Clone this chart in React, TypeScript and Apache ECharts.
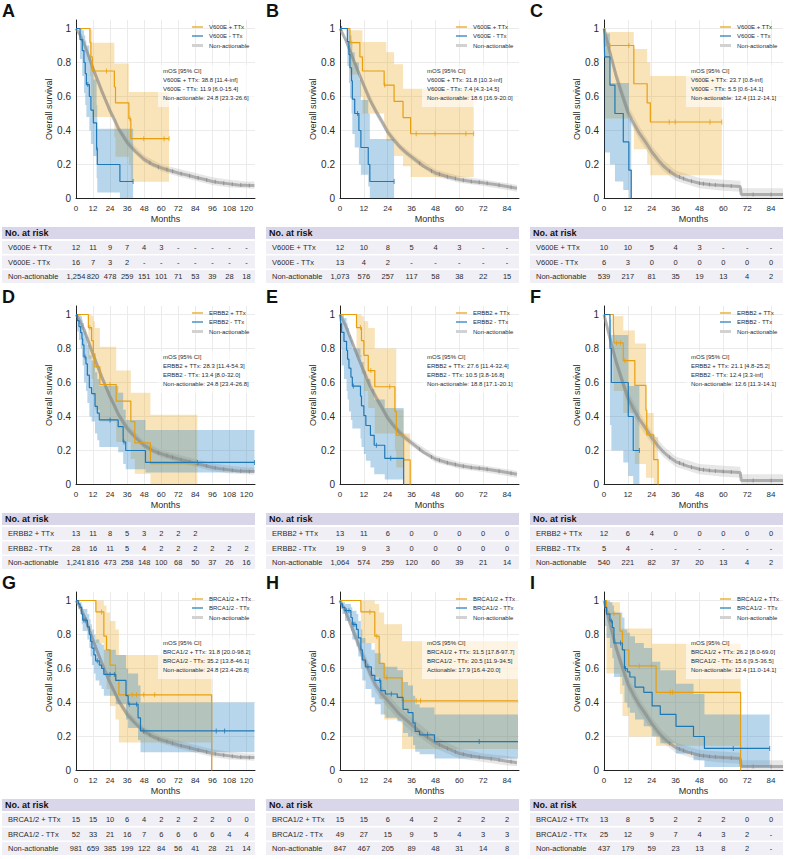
import React, { useEffect, useRef } from 'react';
import * as echarts from 'echarts';

const FONT = '"Liberation Sans", Arial, Helvetica, sans-serif';
const ORANGE = '#E89F0E';
const BLUE = '#1F78B6';
const ORANGE_BAND = 'rgba(236,163,20,0.30)';
const BLUE_BAND = 'rgba(40,130,195,0.33)';
const GREY_LINE = 'rgba(135,135,135,0.6)';
const GREY_BAND = 'rgba(170,170,170,0.28)';
const GREY_CENSOR = '#8a8a8a';
const TEXT = '#2b2b2b';

const TICKS_120 = [0, 12, 24, 36, 48, 60, 72, 84, 96, 108, 120];
const TICKS_84 = [0, 12, 24, 36, 48, 60, 72, 84];

// ---------- Non-actionable reference cohorts: [month, survival] ----------
const NA_LONG = [[0, 1], [3, 0.96], [6, 0.905], [9, 0.835], [12, 0.765], [15, 0.7], [18, 0.635], [21, 0.575], [24, 0.515], [27, 0.465], [30, 0.41], [33, 0.37], [36, 0.33], [42, 0.275], [48, 0.23], [54, 0.2], [60, 0.18], [66, 0.165], [72, 0.15], [78, 0.138], [84, 0.125], [90, 0.113], [96, 0.1], [102, 0.092], [108, 0.086], [114, 0.08], [120, 0.078], [125.6, 0.077]];
const NA_LONG_CI = [[0, 1, 1], [6, 0.89, 0.92], [12, 0.74, 0.79], [18, 0.61, 0.66], [24, 0.49, 0.54], [30, 0.39, 0.43], [36, 0.31, 0.355], [48, 0.21, 0.255], [60, 0.16, 0.2], [72, 0.13, 0.175], [84, 0.105, 0.15], [96, 0.08, 0.125], [108, 0.065, 0.11], [120, 0.06, 0.1], [125.6, 0.058, 0.1]];
const NA_LONG_CENS = [[52, 0.21], [58, 0.185], [64, 0.17], [68, 0.16], [74, 0.146], [80, 0.134], [86, 0.121], [92, 0.109], [98, 0.098], [104, 0.09], [110, 0.084], [116, 0.079], [122, 0.077]];

const NA_MID = [[0, 1], [3, 0.93], [6, 0.84], [9, 0.75], [12, 0.665], [15, 0.58], [18, 0.515], [21, 0.455], [24, 0.39], [27, 0.345], [30, 0.305], [33, 0.272], [36, 0.245], [42, 0.19], [48, 0.15], [54, 0.128], [60, 0.112], [66, 0.1], [72, 0.092], [78, 0.082], [84, 0.07], [89, 0.06]];
const NA_MID_CI = [[0, 1, 1], [6, 0.82, 0.86], [12, 0.64, 0.69], [18, 0.49, 0.54], [24, 0.37, 0.415], [30, 0.285, 0.325], [36, 0.225, 0.265], [48, 0.13, 0.17], [60, 0.093, 0.132], [72, 0.073, 0.112], [84, 0.05, 0.09], [89, 0.04, 0.08]];
const NA_MID_CENS = [[40, 0.207], [46, 0.162], [50, 0.142], [54, 0.128], [58, 0.117], [62, 0.108], [66, 0.1], [70, 0.095], [74, 0.089], [80, 0.078], [86, 0.066]];

const NA_SHORT = [[0, 1], [3, 0.86], [6, 0.725], [9, 0.615], [12, 0.51], [15, 0.44], [18, 0.38], [21, 0.33], [24, 0.275], [27, 0.23], [30, 0.19], [33, 0.16], [36, 0.135], [42, 0.108], [48, 0.09], [54, 0.081], [60, 0.076], [68.5, 0.07], [69, 0.023], [90, 0.023]];
const NA_SHORT_CI = [[0, 1, 1], [6, 0.69, 0.76], [12, 0.47, 0.55], [18, 0.34, 0.42], [24, 0.24, 0.31], [30, 0.16, 0.225], [36, 0.105, 0.165], [48, 0.06, 0.12], [60, 0.045, 0.11], [68.5, 0.04, 0.105], [69, 0.003, 0.06], [90, 0.003, 0.06]];
const NA_SHORT_CENS = [[33, 0.16], [38, 0.127], [40, 0.118], [44, 0.102], [48, 0.09], [50, 0.087], [53, 0.082], [56, 0.079], [60, 0.076], [64, 0.073], [75, 0.023], [84, 0.023]];

const NA_H = [[0, 1], [3, 0.93], [6, 0.84], [9, 0.75], [12, 0.66], [15, 0.575], [18, 0.5], [21, 0.45], [24, 0.41], [27, 0.37], [30, 0.33], [33, 0.3], [36, 0.27], [42, 0.21], [48, 0.163], [54, 0.13], [60, 0.1], [66, 0.085], [72, 0.075], [78, 0.066], [84, 0.055], [89, 0.045]];
const NA_H_CI = [[0, 1, 1], [6, 0.81, 0.87], [12, 0.62, 0.7], [18, 0.46, 0.54], [24, 0.37, 0.45], [30, 0.29, 0.37], [36, 0.23, 0.31], [48, 0.13, 0.2], [60, 0.07, 0.13], [72, 0.05, 0.1], [84, 0.03, 0.085], [89, 0.025, 0.075]];
const NA_H_CENS = [[38, 0.25], [44, 0.195], [50, 0.152], [54, 0.13], [58, 0.11], [62, 0.096], [66, 0.085], [70, 0.078], [76, 0.069], [80, 0.063], [86, 0.052]];

// ---------- A: BRAF V600E ----------
const A_PLUS = [[0, 1], [9.8, 0.917], [10.5, 0.833], [11.5, 0.75], [27, 0.656], [27.8, 0.563], [37.2, 0.469], [38.6, 0.352], [65.5, 0.352]];
const A_PLUS_CI = [[0, 1, 1], [9.8, 0.72, 1], [10.5, 0.6, 0.99], [11.5, 0.48, 0.916], [27, 0.36, 0.794], [27.8, 0.245, 0.794], [37.2, 0.2, 0.627], [38.6, 0.098, 0.627], [65.5, 0.098, 0.627]];
const A_PLUS_CENS = [[21.5, 0.75], [38, 0.469], [47.7, 0.352], [62, 0.352], [65.5, 0.352]];
const A_MINUS = [[0, 1], [2.8, 0.935], [4.4, 0.87], [5.6, 0.8], [6.5, 0.735], [7.3, 0.67], [9.4, 0.6], [10.5, 0.52], [12.2, 0.445], [14.5, 0.297], [15, 0.2], [30.9, 0.1], [40.2, 0.1]];
const A_MINUS_CI = [[0, 1, 1], [2.8, 0.82, 1], [4.4, 0.72, 0.99], [5.6, 0.62, 0.96], [6.5, 0.55, 0.93], [7.3, 0.48, 0.9], [9.4, 0.4, 0.84], [10.5, 0.32, 0.78], [12.2, 0.25, 0.7], [14.5, 0.12, 0.55], [15, 0.035, 0.41], [30.9, 0, 0.41], [40.2, 0, 0.41]];
const A_MINUS_CENS = [[8.3, 0.67], [14.5, 0.297], [40.2, 0.1]];

// ---------- B ----------
const B_PLUS = [[0, 1], [5, 0.917], [10, 0.833], [11.3, 0.75], [22.2, 0.667], [27.2, 0.571], [31.7, 0.476], [35.5, 0.381], [67.2, 0.381]];
const B_PLUS_CI = [[0, 1, 1], [5, 0.73, 0.99], [10, 0.6, 0.99], [11.3, 0.5, 0.92], [22.2, 0.42, 0.92], [23.3, 0.34, 0.86], [27.2, 0.25, 0.79], [31.7, 0.19, 0.645], [35.5, 0.127, 0.645], [67.2, 0.127, 0.645]];
const B_PLUS_CENS = [[22.5, 0.667], [38.3, 0.381], [47.8, 0.381], [63.3, 0.381], [67.2, 0.381]];
const B_MINUS = [[0, 1], [3.7, 0.923], [4.5, 0.846], [5, 0.769], [5.8, 0.692], [6.2, 0.585], [7.4, 0.5], [9.5, 0.4], [10.5, 0.3], [14.2, 0.2], [15, 0.1], [27.2, 0.1]];
const B_MINUS_CI = [[0, 1, 1], [3.7, 0.78, 1], [4.5, 0.68, 0.99], [5, 0.59, 0.96], [5.8, 0.5, 0.93], [6.2, 0.38, 0.86], [7.4, 0.3, 0.8], [9.5, 0.2, 0.7], [10.5, 0.14, 0.58], [14.2, 0.07, 0.5], [15, 0, 0.35], [27.2, 0, 0.35]];
const B_MINUS_CENS = [[0.8, 1], [8.8, 0.5], [27.2, 0.1]];

// ---------- C ----------
const C_PLUS = [[0, 1], [0.5, 0.9], [15, 0.675], [21.7, 0.5625], [23.3, 0.45], [59.2, 0.45]];
const C_PLUS_CI = [[0, 1, 1], [0.5, 0.47, 0.98], [15, 0.29, 0.88], [21.7, 0.2, 0.8], [23.3, 0.137, 0.72], [59.2, 0.137, 0.72]];
const C_PLUS_CENS = [[3, 0.9], [12.5, 0.9], [32.8, 0.45], [35.8, 0.45], [53.3, 0.45], [59.2, 0.45]];
const C_MINUS = [[0, 1], [0.3, 0.833], [3, 0.667], [5.5, 0.5], [9.7, 0.333], [12.5, 0.167], [13.7, 0]];
const C_MINUS_CI = [[0, 1, 1], [0.3, 0.27, 0.97], [3, 0.2, 0.68], [5.5, 0.1, 0.68], [9.7, 0.05, 0.68], [12.5, 0, 0.47], [13.7, 0, 0.47]];
const C_MINUS_CENS: number[][] = [];

// ---------- D: ERBB2 ----------
const D_PLUS = [[0, 1], [8.7, 0.923], [11, 0.846], [12.2, 0.769], [13.3, 0.692], [16.8, 0.588], [28.3, 0.49], [38.6, 0.37], [41.4, 0.245], [52.4, 0.123], [85.4, 0.123]];
const D_PLUS_CI = [[0, 1, 1], [8.7, 0.74, 1], [11, 0.62, 0.99], [12.2, 0.52, 0.96], [13.3, 0.44, 0.92], [16.8, 0.37, 0.81], [28.3, 0.25, 0.67], [38.6, 0.15, 0.54], [41.4, 0.063, 0.54], [52.4, 0, 0.41], [85.4, 0, 0.41]];
const D_PLUS_CENS = [[9.8, 0.923], [23.9, 0.588], [85.4, 0.123]];
const D_MINUS = [[0, 1], [0.9, 0.964], [2.1, 0.929], [3.3, 0.893], [4.2, 0.857], [4.7, 0.821], [5.6, 0.75], [7, 0.71], [8, 0.643], [9.4, 0.57], [11, 0.535], [13.4, 0.46], [15, 0.42], [16.4, 0.38], [29.7, 0.34], [33.2, 0.25], [35, 0.2], [48.9, 0.13], [125.6, 0.13]];
const D_MINUS_CI = [[0, 1, 1], [0.9, 0.9, 1], [2.1, 0.85, 1], [3.3, 0.8, 0.99], [4.2, 0.75, 0.97], [4.7, 0.7, 0.95], [5.6, 0.6, 0.9], [7, 0.55, 0.87], [8, 0.48, 0.82], [9.4, 0.4, 0.76], [11, 0.37, 0.73], [13.4, 0.3, 0.66], [15, 0.26, 0.62], [16.4, 0.22, 0.58], [29.7, 0.19, 0.54], [33.2, 0.12, 0.44], [35, 0.09, 0.38], [48.9, 0.07, 0.32], [125.6, 0.07, 0.32]];
const D_MINUS_CENS = [[6.4, 0.75], [24, 0.38], [33.8, 0.25], [85.4, 0.13], [125.6, 0.13]];

// ---------- E ----------
const E_PLUS = [[0, 1], [8.3, 0.923], [10.8, 0.846], [12, 0.76], [14.2, 0.67], [17.5, 0.575], [27.6, 0.43], [28.3, 0.29], [32, 0.145], [35.3, 0]];
const E_PLUS_CI = [[0, 1, 1], [8.3, 0.75, 1], [10.8, 0.65, 0.99], [12, 0.55, 0.96], [14.2, 0.45, 0.92], [17.5, 0.3, 0.8], [27.6, 0.2, 0.8], [28.3, 0.1, 0.44], [32, 0, 0.3], [35.3, 0, 0.3]];
const E_PLUS_CENS = [[10.3, 0.923], [15.5, 0.67], [25, 0.575]];
const E_MINUS = [[0, 1], [0.3, 0.947], [0.8, 0.895], [2, 0.842], [3.3, 0.789], [3.8, 0.737], [4.5, 0.684], [5.5, 0.632], [6.2, 0.579], [10.3, 0.52], [10.8, 0.463], [12, 0.405], [13, 0.347], [15.3, 0.289], [17.2, 0.231], [22.5, 0.154], [32, 0]];
const E_MINUS_CI = [[0, 1, 1], [0.3, 0.8, 1], [0.8, 0.7, 1], [2, 0.62, 0.98], [3.3, 0.55, 0.95], [3.8, 0.5, 0.92], [4.5, 0.43, 0.88], [5.5, 0.38, 0.85], [6.2, 0.33, 0.8], [10.3, 0.27, 0.76], [10.8, 0.22, 0.72], [12, 0.18, 0.67], [13, 0.14, 0.62], [15.3, 0.1, 0.56], [17.2, 0.06, 0.5], [22.5, 0.03, 0.45], [32, 0.03, 0.45]];
const E_MINUS_CENS = [[6.7, 0.579], [18.3, 0.231], [25.5, 0.154]];

// ---------- F ----------
const F_PLUS = [[0, 1], [4.7, 0.917], [5, 0.833], [9.7, 0.729], [15.5, 0.583], [21.1, 0.437], [21.5, 0.292], [25, 0.146], [27.2, 0]];
const F_PLUS_CI = [[0, 1, 1], [4.7, 0.6, 1], [5, 0.55, 0.99], [9.7, 0.42, 0.906], [15.5, 0.12, 0.83], [21.1, 0.04, 0.42], [25, 0, 0.28], [27.2, 0, 0.28]];
const F_PLUS_CENS = [[6.3, 0.833], [8.3, 0.833], [10.5, 0.729]];
const F_MINUS = [[0, 1], [3, 0.8], [3.7, 0.6], [12.2, 0.4], [14.7, 0.2], [17.8, 0.2]];
const F_MINUS_CI = [[0, 1, 1], [3, 0.35, 0.97], [3.7, 0.2, 0.88], [9.7, 0.13, 0.88], [12.2, 0.05, 0.58], [14.7, 0, 0.58], [17.8, 0, 0.58]];
const F_MINUS_CENS = [[17.8, 0.2]];

// ---------- G: BRCA1/2 ----------
const G_PLUS = [[0, 1], [14, 0.933], [19.6, 0.79], [21.5, 0.71], [23.9, 0.62], [27.8, 0.53], [30.2, 0.445], [95.5, 0]];
const G_PLUS_CI = [[0, 1, 1], [14, 0.75, 1], [19.6, 0.6, 0.97], [21.5, 0.48, 0.93], [23.9, 0.38, 0.88], [27.8, 0.3, 0.83], [30.2, 0.165, 0.68], [95.5, 0.165, 0.68]];
const G_PLUS_CENS = [[18, 0.933], [39.5, 0.445], [42.6, 0.445], [47.7, 0.445], [55.4, 0.445]];
const G_MINUS = [[0, 1], [1.6, 0.98], [2.8, 0.96], [4, 0.92], [4.7, 0.885], [8, 0.845], [9.4, 0.8], [10.3, 0.76], [11.2, 0.72], [12.6, 0.68], [13.8, 0.645], [16.4, 0.62], [18, 0.6], [19.6, 0.565], [28, 0.53], [35.2, 0.44], [36.7, 0.39], [43.7, 0.31], [45.4, 0.233], [125.6, 0.233]];
const G_MINUS_CI = [[0, 1, 1], [1.6, 0.95, 1], [2.8, 0.92, 0.99], [4, 0.86, 0.97], [4.7, 0.82, 0.95], [8, 0.77, 0.92], [9.4, 0.72, 0.89], [10.3, 0.67, 0.86], [11.2, 0.62, 0.83], [12.6, 0.57, 0.8], [13.8, 0.53, 0.77], [16.4, 0.5, 0.75], [18, 0.48, 0.74], [19.6, 0.44, 0.71], [28, 0.39, 0.68], [35.2, 0.3, 0.6], [36.7, 0.25, 0.57], [43.7, 0.18, 0.5], [45.4, 0.107, 0.4], [125.6, 0.107, 0.4]];
const G_MINUS_CENS = [[5.5, 0.885], [6.5, 0.885], [7.2, 0.885], [15, 0.645], [23.9, 0.565], [27, 0.565], [37.5, 0.39], [42.6, 0.39], [47.7, 0.233], [98.7, 0.233], [104.6, 0.233]];

// ---------- H ----------
const H_PLUS = [[0, 1], [10.5, 0.933], [17.5, 0.79], [19.7, 0.63], [22.2, 0.545], [31.2, 0.41], [89.5, 0.41]];
const H_PLUS_CI = [[0, 1, 1], [10.5, 0.75, 1], [17.5, 0.55, 0.98], [19.7, 0.42, 0.93], [22.2, 0.3, 0.86], [31.2, 0.126, 0.76], [89.5, 0.126, 0.76]];
const H_PLUS_CENS = [[15, 0.933], [18.5, 0.79], [23.5, 0.545], [38.3, 0.41], [40.5, 0.41]];
const H_MINUS = [[0, 1], [0.3, 0.98], [1.2, 0.96], [2.5, 0.94], [5.5, 0.9], [6.2, 0.86], [8.3, 0.83], [9.2, 0.78], [10.5, 0.71], [11.2, 0.65], [12.8, 0.61], [15.8, 0.56], [17.5, 0.53], [20.5, 0.47], [22.8, 0.45], [28.8, 0.43], [31.7, 0.36], [34.2, 0.34], [36.7, 0.28], [37.8, 0.23], [40, 0.21], [47.5, 0.17], [89.5, 0.17]];
const H_MINUS_CI = [[0, 1, 1], [0.3, 0.95, 1], [1.2, 0.92, 0.99], [2.5, 0.88, 0.98], [5.5, 0.82, 0.96], [6.2, 0.77, 0.94], [8.3, 0.73, 0.92], [9.2, 0.67, 0.88], [10.5, 0.6, 0.83], [11.2, 0.53, 0.78], [12.8, 0.48, 0.75], [15.8, 0.43, 0.71], [17.5, 0.39, 0.69], [20.5, 0.33, 0.63], [22.8, 0.31, 0.61], [28.8, 0.29, 0.59], [31.7, 0.22, 0.52], [34.2, 0.2, 0.5], [36.7, 0.15, 0.44], [37.8, 0.11, 0.39], [40, 0.095, 0.37], [47.5, 0.07, 0.33], [89.5, 0.07, 0.33]];
const H_MINUS_CENS = [[3.3, 0.94], [4.5, 0.94], [6.7, 0.86], [7.5, 0.86], [14, 0.61], [20, 0.53], [25.8, 0.45], [44, 0.21], [70, 0.17]];

// ---------- I ----------
const I_PLUS = [[0, 1], [1.3, 0.923], [8, 0.82], [9.3, 0.71], [12.5, 0.615], [26.2, 0.46], [68.7, 0]];
const I_PLUS_CI = [[0, 1, 1], [1.3, 0.57, 0.99], [8, 0.45, 0.835], [9.3, 0.32, 0.835], [12.5, 0.2, 0.835], [24.2, 0.2, 0.745], [26.2, 0.145, 0.745], [68.7, 0.145, 0.745]];
const I_PLUS_CENS = [[2.5, 0.923], [5, 0.923], [17.8, 0.615], [23.8, 0.615], [33.3, 0.46], [34.5, 0.46]];
const I_MINUS = [[0, 1], [0.5, 0.96], [1.3, 0.92], [3, 0.88], [4.2, 0.84], [5, 0.75], [9.2, 0.71], [10.3, 0.6], [11.7, 0.58], [13, 0.55], [15.6, 0.49], [20, 0.46], [24.2, 0.38], [28.3, 0.33], [36.2, 0.26], [45, 0.2], [50.5, 0.13], [83.3, 0.13]];
const I_MINUS_CI = [[0, 1, 1], [0.5, 0.85, 1], [1.3, 0.78, 1], [3, 0.72, 0.99], [4.2, 0.66, 0.97], [5, 0.55, 0.93], [9.2, 0.5, 0.9], [10.3, 0.4, 0.83], [11.7, 0.37, 0.81], [13, 0.34, 0.79], [15.6, 0.3, 0.75], [20, 0.26, 0.72], [24.2, 0.2, 0.64], [28.3, 0.16, 0.59], [36.2, 0.1, 0.51], [45, 0.06, 0.45], [50.5, 0.02, 0.33], [83.3, 0.02, 0.33]];
const I_MINUS_CENS = [[3.7, 0.88], [8.3, 0.75], [10.8, 0.6], [65, 0.13], [83.3, 0.13]];

// ---------- numbers at risk ----------
const A_RISK_PLUS = ['12', '11', '9', '7', '4', '3', '-', '-', '-', '-', '-'];
const A_RISK_MINUS = ['16', '7', '3', '2', '-', '-', '-', '-', '-', '-', '-'];
const A_RISK_NA = ['1,254', '820', '478', '259', '151', '101', '71', '53', '39', '28', '18'];
const B_RISK_PLUS = ['12', '10', '8', '5', '4', '3', '-', '-'];
const B_RISK_MINUS = ['13', '4', '2', '-', '-', '-', '-', '-'];
const B_RISK_NA = ['1,073', '576', '257', '117', '58', '38', '22', '15'];
const C_RISK_PLUS = ['10', '10', '5', '4', '3', '-', '-', '-'];
const C_RISK_MINUS = ['6', '3', '0', '0', '0', '0', '0', '0'];
const C_RISK_NA = ['539', '217', '81', '35', '19', '13', '4', '2'];
const D_RISK_PLUS = ['13', '11', '8', '5', '3', '2', '2', '2', '', '', ''];
const D_RISK_MINUS = ['28', '16', '11', '5', '4', '2', '2', '2', '2', '2', '2'];
const D_RISK_NA = ['1,241', '816', '473', '258', '148', '100', '68', '50', '37', '26', '16'];
const E_RISK_PLUS = ['13', '11', '6', '0', '0', '0', '0', '0'];
const E_RISK_MINUS = ['19', '9', '3', '0', '0', '0', '0', '0'];
const E_RISK_NA = ['1,064', '574', '259', '120', '60', '39', '21', '14'];
const F_RISK_PLUS = ['12', '6', '4', '0', '0', '0', '0', '0'];
const F_RISK_MINUS = ['5', '4', '-', '-', '-', '-', '-', '-'];
const F_RISK_NA = ['540', '221', '82', '37', '20', '13', '4', '2'];
const G_RISK_PLUS = ['15', '15', '10', '6', '4', '2', '2', '2', '2', '0', '0'];
const G_RISK_MINUS = ['52', '33', '21', '16', '7', '6', '6', '6', '6', '4', '4'];
const G_RISK_NA = ['981', '659', '385', '199', '122', '84', '56', '41', '28', '21', '14'];
const H_RISK_PLUS = ['15', '15', '6', '4', '2', '2', '2', '2'];
const H_RISK_MINUS = ['49', '27', '15', '9', '5', '4', '3', '3'];
const H_RISK_NA = ['847', '467', '205', '89', '48', '31', '14', '8'];
const I_RISK_PLUS = ['13', '8', '5', '2', '2', '2', '0', '0'];
const I_RISK_MINUS = ['25', '12', '9', '7', '4', '3', '2', '-'];
const I_RISK_NA = ['437', '179', '59', '23', '13', '8', '2', '-'];

// ---------- median OS annotations ----------
const MOS_A = ['V600E + TTx: 38.8 [11.4-inf]', 'V600E - TTx: 11.9 [6.0-15.4]', 'Non-actionable: 24.8 [23.3-26.6]'];
const MOS_B = ['V600E + TTx: 31.8 [10.3-inf]', 'V600E - TTx: 7.4 [4.3-14.5]', 'Non-actionable: 18.6 [16.9-20.0]'];
const MOS_C = ['V600E + TTx: 23.7 [0.8-inf]', 'V600E - TTx: 5.5 [0.6-14.1]', 'Non-actionable: 12.4 [11.2-14.1]'];
const MOS_D = ['ERBB2 + TTx: 28.3 [11.4-54.3]', 'ERBB2 - TTx: 13.4 [8.0-32.0]', 'Non-actionable: 24.8 [23.4-26.8]'];
const MOS_E = ['ERBB2 + TTx: 27.6 [11.4-32.4]', 'ERBB2 - TTx: 10.5 [3.8-16.8]', 'Non-actionable: 18.8 [17.1-20.1]'];
const MOS_F = ['ERBB2 + TTx: 21.1 [4.8-25.2]', 'ERBB2 - TTx: 12.4 [3.3-inf]', 'Non-actionable: 12.6 [11.3-14.1]'];
const MOS_G = ['BRCA1/2 + TTx: 31.8 [20.0-98.2]', 'BRCA1/2 - TTx: 35.2 [13.8-46.1]', 'Non-actionable: 24.8 [23.4-26.8]'];
const MOS_H = ['BRCA1/2 + TTx: 31.5 [17.8-97.7]', 'BRCA1/2 - TTx: 20.5 [11.9-34.5]', 'Actionable: 17.9 [16.4-20.0]'];
const MOS_I = ['BRCA1/2 + TTx: 26.2 [8.0-69.0]', 'BRCA1/2 - TTx: 15.6 [9.5-36.5]', 'Non-actionable: 12.4 [11.0-14.1]'];

const V600E = ['V600E + TTx', 'V600E - TTx', 'Non-actionable'];
const ERBB2 = ['ERBB2 + TTx', 'ERBB2 - TTx', 'Non-actionable'];
const BRCA = ['BRCA1/2 + TTx', 'BRCA1/2 - TTx', 'Non-actionable'];

type Arm = { line: number[][]; ci: number[][]; cens: number[][] };
type Panel = {
  letter: string; col: number; row: number; xMax: number; ticks: number[];
  names: string[]; mos: string[]; plus: Arm; minus: Arm; na: Arm; risk: string[][];
};

const NA_LONG_ARM = { line: NA_LONG, ci: NA_LONG_CI, cens: NA_LONG_CENS };
const NA_MID_ARM = { line: NA_MID, ci: NA_MID_CI, cens: NA_MID_CENS };
const NA_SHORT_ARM = { line: NA_SHORT, ci: NA_SHORT_CI, cens: NA_SHORT_CENS };
const NA_H_ARM = { line: NA_H, ci: NA_H_CI, cens: NA_H_CENS };

const PANELS: Panel[] = [
  { letter: 'A', col: 0, row: 0, xMax: 126, ticks: TICKS_120, names: V600E, mos: MOS_A,
    plus: { line: A_PLUS, ci: A_PLUS_CI, cens: A_PLUS_CENS }, minus: { line: A_MINUS, ci: A_MINUS_CI, cens: A_MINUS_CENS },
    na: NA_LONG_ARM, risk: [A_RISK_PLUS, A_RISK_MINUS, A_RISK_NA] },
  { letter: 'B', col: 1, row: 0, xMax: 90, ticks: TICKS_84, names: V600E, mos: MOS_B,
    plus: { line: B_PLUS, ci: B_PLUS_CI, cens: B_PLUS_CENS }, minus: { line: B_MINUS, ci: B_MINUS_CI, cens: B_MINUS_CENS },
    na: NA_MID_ARM, risk: [B_RISK_PLUS, B_RISK_MINUS, B_RISK_NA] },
  { letter: 'C', col: 2, row: 0, xMax: 90, ticks: TICKS_84, names: V600E, mos: MOS_C,
    plus: { line: C_PLUS, ci: C_PLUS_CI, cens: C_PLUS_CENS }, minus: { line: C_MINUS, ci: C_MINUS_CI, cens: C_MINUS_CENS },
    na: NA_SHORT_ARM, risk: [C_RISK_PLUS, C_RISK_MINUS, C_RISK_NA] },
  { letter: 'D', col: 0, row: 1, xMax: 126, ticks: TICKS_120, names: ERBB2, mos: MOS_D,
    plus: { line: D_PLUS, ci: D_PLUS_CI, cens: D_PLUS_CENS }, minus: { line: D_MINUS, ci: D_MINUS_CI, cens: D_MINUS_CENS },
    na: NA_LONG_ARM, risk: [D_RISK_PLUS, D_RISK_MINUS, D_RISK_NA] },
  { letter: 'E', col: 1, row: 1, xMax: 90, ticks: TICKS_84, names: ERBB2, mos: MOS_E,
    plus: { line: E_PLUS, ci: E_PLUS_CI, cens: E_PLUS_CENS }, minus: { line: E_MINUS, ci: E_MINUS_CI, cens: E_MINUS_CENS },
    na: NA_MID_ARM, risk: [E_RISK_PLUS, E_RISK_MINUS, E_RISK_NA] },
  { letter: 'F', col: 2, row: 1, xMax: 90, ticks: TICKS_84, names: ERBB2, mos: MOS_F,
    plus: { line: F_PLUS, ci: F_PLUS_CI, cens: F_PLUS_CENS }, minus: { line: F_MINUS, ci: F_MINUS_CI, cens: F_MINUS_CENS },
    na: NA_SHORT_ARM, risk: [F_RISK_PLUS, F_RISK_MINUS, F_RISK_NA] },
  { letter: 'G', col: 0, row: 2, xMax: 126, ticks: TICKS_120, names: BRCA, mos: MOS_G,
    plus: { line: G_PLUS, ci: G_PLUS_CI, cens: G_PLUS_CENS }, minus: { line: G_MINUS, ci: G_MINUS_CI, cens: G_MINUS_CENS },
    na: NA_LONG_ARM, risk: [G_RISK_PLUS, G_RISK_MINUS, G_RISK_NA] },
  { letter: 'H', col: 1, row: 2, xMax: 90, ticks: TICKS_84, names: BRCA, mos: MOS_H,
    plus: { line: H_PLUS, ci: H_PLUS_CI, cens: H_PLUS_CENS }, minus: { line: H_MINUS, ci: H_MINUS_CI, cens: H_MINUS_CENS },
    na: NA_H_ARM, risk: [H_RISK_PLUS, H_RISK_MINUS, H_RISK_NA] },
  { letter: 'I', col: 2, row: 2, xMax: 90, ticks: TICKS_84, names: BRCA, mos: MOS_I,
    plus: { line: I_PLUS, ci: I_PLUS_CI, cens: I_PLUS_CENS }, minus: { line: I_MINUS, ci: I_MINUS_CI, cens: I_MINUS_CENS },
    na: NA_SHORT_ARM, risk: [I_RISK_PLUS, I_RISK_MINUS, I_RISK_NA] },
];

// layout of the 3x3 figure
const COL_LEFT = [76, 340, 604];
const ROW_TOP = [0, 286, 572];
const PLOT_W = 179;
const PLOT_TOP = 20;
const PLOT_H = 178.5;

// shaded confidence band: stepped for KM arms, linear for the large cohort
function bandSeries(ci: number[][], fill: string, idx: number, stepped: boolean) {
  return {
    type: 'custom',
    xAxisIndex: idx,
    yAxisIndex: idx,
    data: ci,
    silent: true,
    clip: true,
    encode: { x: 0, y: 1 },
    renderItem: (params: any, api: any) => {
      if (params.dataIndex !== 0) return null;
      const up: number[][] = [];
      const lo: number[][] = [];
      for (let k = 0; k < ci.length; k++) {
        const [t, l, h] = ci[k];
        up.push(api.coord([t, h]));
        lo.push(api.coord([t, l]));
        if (stepped && k < ci.length - 1) {
          const tn = ci[k + 1][0];
          up.push(api.coord([tn, h]));
          lo.push(api.coord([tn, l]));
        }
      }
      return { type: 'polygon', shape: { points: up.concat(lo.reverse()) }, style: { fill } };
    },
  };
}

function kmLine(data: number[][], color: string, idx: number) {
  return {
    type: 'line', xAxisIndex: idx, yAxisIndex: idx, data, step: 'end', showSymbol: false,
    silent: true, lineStyle: { color, width: 1.2 }, itemStyle: { color },
  };
}

function censorMarks(data: number[][], color: string, idx: number, h: number) {
  return {
    type: 'scatter', xAxisIndex: idx, yAxisIndex: idx, data, symbol: 'rect',
    symbolSize: [1, h], silent: true, itemStyle: { color },
  };
}

function txt(text: string, x: number, y: number, size: number, opts: any = {}) {
  return {
    type: 'text',
    z: opts.z ?? 50,
    silent: true,
    style: {
      text, x, y,
      fill: opts.fill ?? TEXT,
      fontSize: size,
      fontFamily: FONT,
      fontWeight: opts.bold ? 'bold' : 'normal',
      textAlign: opts.align ?? 'left',
      align: opts.align ?? 'left',
      textVerticalAlign: 'middle',
      verticalAlign: 'middle',
    },
  };
}

function rect(x: number, y: number, width: number, height: number, fill: string, z = 1) {
  return { type: 'rect', silent: true, z, shape: { x, y, width, height }, style: { fill } };
}

function buildOption() {
  const grid: any[] = [];
  const xAxis: any[] = [];
  const yAxis: any[] = [];
  const series: any[] = [];
  const graphic: any[] = [];

  PANELS.forEach((p, i) => {
    const left = COL_LEFT[p.col];
    const top0 = ROW_TOP[p.row];
    const right = left + PLOT_W;
    const lastTick = p.ticks[p.ticks.length - 1];

    grid.push({ left, top: top0 + PLOT_TOP, width: PLOT_W, height: PLOT_H });
    xAxis.push({
      type: 'value', gridIndex: i, min: 0, max: p.xMax, interval: 12,
      axisLine: { show: true, lineStyle: { color: '#222', width: 1 } },
      axisTick: { show: false },
      axisLabel: {
        fontSize: 8, color: TEXT, margin: 6, fontFamily: FONT, showMaxLabel: false,
        formatter: (v: number) => (v <= lastTick && v % 12 === 0 ? String(v) : ''),
      },
      splitLine: { show: true, showMaxLine: false, lineStyle: { color: '#ebebeb', width: 1 } },
      name: 'Months', nameLocation: 'middle', nameGap: 16,
      nameTextStyle: { fontSize: 9, color: TEXT, fontFamily: FONT },
    });
    yAxis.push({
      type: 'value', gridIndex: i, min: 0, max: 1.05, interval: 0.2,
      axisLine: { show: true, lineStyle: { color: '#222', width: 1 } },
      axisTick: { show: false },
      axisLabel: {
        fontSize: 10, color: TEXT, margin: 5, fontFamily: FONT, showMaxLabel: false,
        formatter: (v: number) => {
          if (Math.abs(v * 5 - Math.round(v * 5)) > 1e-6) return '';
          const r = Math.round(v * 10) / 10;
          return r === 0 ? '0' : r === 1 ? '1' : r.toFixed(1);
        },
      },
      splitLine: { show: true, showMaxLine: false, lineStyle: { color: '#ebebeb', width: 1 } },
      name: 'Overall survival', nameLocation: 'middle', nameGap: 23, nameRotate: 90,
      nameTextStyle: { fontSize: 9, color: TEXT, fontFamily: FONT },
    });

    // reference cohort
    series.push(bandSeries(p.na.ci, GREY_BAND, i, false));
    series.push({
      type: 'line', xAxisIndex: i, yAxisIndex: i, data: p.na.line, showSymbol: false, silent: true,
      lineStyle: { color: GREY_LINE, width: 3 }, itemStyle: { color: GREY_LINE },
    });
    series.push(censorMarks(p.na.cens, GREY_CENSOR, i, 4));
    // biomarker arms
    series.push(bandSeries(p.plus.ci, ORANGE_BAND, i, true));
    series.push(bandSeries(p.minus.ci, BLUE_BAND, i, true));
    series.push(kmLine(p.plus.line, ORANGE, i));
    series.push(kmLine(p.minus.line, BLUE, i));
    series.push(censorMarks(p.plus.cens, ORANGE, i, 5));
    series.push(censorMarks(p.minus.cens, BLUE, i, 5));

    // panel letter
    graphic.push(txt(p.letter, left - 74, top0 + 11, 18, { bold: true, fill: '#111' }));

    // legend
    const legendColors = [ORANGE, BLUE, '#d2d2d2'];
    const legendWidths = [1.2, 1.2, 3];
    [27, 36, 45.5].forEach((dy, k) => {
      graphic.push({
        type: 'line', silent: true, z: 60,
        shape: { x1: left + 116, y1: top0 + dy, x2: left + 127, y2: top0 + dy },
        style: { stroke: legendColors[k], lineWidth: legendWidths[k] },
      });
      graphic.push(txt(p.names[k], left + 133, top0 + dy, 6, { z: 60 }));
    });

    // median survival box
    graphic.push(rect(left + 82, top0 + 65, right - (left + 82), 42, 'rgba(255,255,255,0.6)', 40));
    ['mOS [95% CI]'].concat(p.mos).forEach((line, k) => {
      graphic.push(txt(line, left + 87, top0 + [71, 80, 89, 98][k], 6, { z: 60 }));
    });

    // numbers-at-risk table
    const tLeft = left - 74;
    const tW = right - tLeft;
    graphic.push(rect(tLeft, top0 + 227, tW, 12, '#d9d6e9'));
    graphic.push(txt('No. at risk', tLeft + 3, top0 + 233, 9, { bold: true, fill: '#111' }));
    const rowY = [247.5, 262, 276.5];
    rowY.forEach((ry, k) => {
      graphic.push(rect(tLeft, top0 + ry - 6.5, tW, 13, '#f0eff6'));
      graphic.push(txt(p.names[k], tLeft + 6, top0 + ry, 7.5));
      p.risk[k].forEach((val, j) => {
        const px = left + (p.ticks[j] / p.xMax) * PLOT_W;
        graphic.push(txt(val, px, top0 + ry, 7.5, { align: 'center' }));
      });
    });
  });

  return {
    animation: false,
    backgroundColor: '#ffffff',
    textStyle: { fontFamily: FONT },
    grid, xAxis, yAxis, series, graphic,
  };
}

export default function App() {
  const ref = useRef<HTMLDivElement>(null);
  useEffect(() => {
    if (!ref.current) return;
    const chart = echarts.init(ref.current, undefined, { renderer: 'svg' });
    chart.setOption(buildOption() as any);
    return () => chart.dispose();
  }, []);
  return (
    <div
      ref={ref}
      style={{ position: 'absolute', left: 0, top: 0, width: 787, height: 859, background: '#fff' }}
    />
  );
}
